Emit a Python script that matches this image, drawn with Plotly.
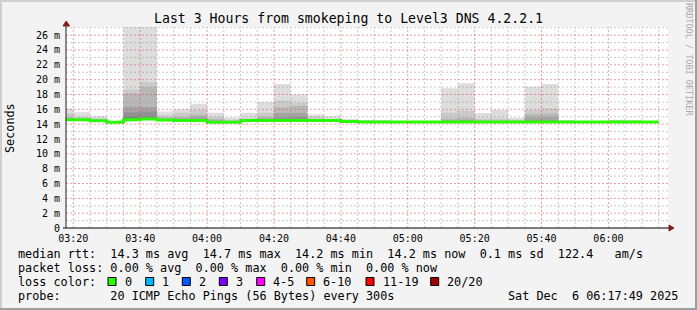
import plotly.graph_objects as go
import pandas as pd

# ---------------- data (values in milliseconds) ----------------
bar_start = list(pd.date_range("2025-12-06 03:15", periods=36, freq="5min"))
bar_end = pd.Timestamp("2025-12-06 06:15")
view_start = "2025-12-06 03:17:49"
view_end = "2025-12-06 06:17:49"

median_rtt = [14.6, 14.6, 14.45, 14.25, 14.6, 14.7, 14.55, 14.5, 14.5, 14.25,
              14.25, 14.5, 14.5, 14.5, 14.5, 14.5, 14.5, 14.35, 14.3, 14.3,
              14.3, 14.3, 14.3, 14.3, 14.3, 14.3, 14.3, 14.3, 14.3, 14.3,
              14.3, 14.3, 14.3, 14.3, 14.3, 14.3]

smoke_bottom = [14.5, 14.5, 14.35, 14.15, 14.5, 14.6, 14.45, 14.4, 14.4, 14.15,
                14.15, 14.4, 14.4, 14.4, 14.4, 14.4, 14.4, 14.25, 14.2, 14.2,
                14.2, 14.2, 14.2, 14.2, 14.2, 14.2, 14.2, 14.2, 14.2, 14.2,
                14.2, 14.2, 14.2, 14.2, 14.2, 14.2]

smoke_top_1 = [16.1, 15.6, 15.1, 14.3, 27.5, 27.5, 15.7, 16.0, 16.75, 15.55,
               14.9, 15.55, 17.0, 19.4, 18.0, 15.3, 15.1, 14.7, 14.55, 14.55,
               14.35, 14.35, 14.35, 18.85, 19.5, 15.5, 15.9, 14.85, 19.05, 19.4,
               14.55, 14.4, 14.35, 14.6, 14.55, 14.35]
smoke_top_2 = [15.5, 15.0, 14.8, 14.3, 18.7, 19.7, 15.2, 15.55, 15.9, 15.0,
               14.6, 14.8, 15.55, 17.15, 16.9, 15.0, 14.7, 14.5, 14.45, 14.45,
               14.3, 14.3, 14.3, 15.55, 15.8, 14.75, 14.75, 14.6, 15.9, 16.1,
               14.45, 14.35, 14.3, 14.5, 14.45, 14.3]
smoke_top_3 = [15.0, 14.8, 14.6, 14.25, 18.15, 19.05, 14.9, 15.0, 15.3, 14.7,
               14.45, 14.6, 15.0, 16.25, 16.45, 14.7, 14.5, 14.4, 14.35, 14.35,
               14.25, 14.25, 14.25, 14.75, 14.9, 14.5, 14.5, 14.45, 15.35, 15.45,
               14.35, 14.3, 14.25, 14.4, 14.35, 14.25]
smoke_top_4 = [14.8, 14.7, 14.5, 14.25, 16.35, 16.3, 14.7, 14.8, 15.0, 14.5,
               14.35, 14.5, 14.8, 15.5, 15.5, 14.6, 14.45, 14.35, 14.3, 14.3,
               14.25, 14.25, 14.25, 14.5, 14.6, 14.4, 14.4, 14.35, 14.9, 14.95,
               14.3, 14.25, 14.25, 14.35, 14.3, 14.25]
smoke_top_5 = [14.7, 14.65, 14.45, 14.2, 15.6, 15.7, 14.6, 14.6, 14.7, 14.35,
               14.3, 14.5, 14.6, 14.9, 15.0, 14.5, 14.4, 14.3, 14.25, 14.25,
               14.2, 14.2, 14.2, 14.4, 14.45, 14.3, 14.3, 14.3, 14.5, 14.5,
               14.25, 14.2, 14.2, 14.3, 14.25, 14.2]
smoke_top_6 = [14.6, 14.6, 14.4, 14.2, 15.0, 15.0, 14.55, 14.5, 14.55, 14.3,
               14.25, 14.45, 14.5, 14.7, 14.7, 14.45, 14.4, 14.3, 14.2, 14.2,
               14.2, 14.2, 14.2, 14.3, 14.3, 14.25, 14.25, 14.25, 14.4, 14.4,
               14.2, 14.2, 14.2, 14.25, 14.2, 14.2]

y_tick_vals = [0, 2, 4, 6, 8, 10, 12, 14, 16, 18, 20, 22, 24, 26]
y_tick_text = ["0", "2 m", "4 m", "6 m", "8 m", "10 m", "12 m", "14 m", "16 m",
               "18 m", "20 m", "22 m", "24 m", "26 m"]
x_tick_text = ["03:20", "03:40", "04:00", "04:20", "04:40", "05:00", "05:20",
               "05:40", "06:00"]

title_text = "Last 3 Hours from smokeping to Level3 DNS 4.2.2.1"
row_rtt = "median rtt:  14.3 ms avg  14.7 ms max  14.2 ms min  14.2 ms now  0.1 ms sd  122.4   am/s"
row_loss = "packet loss: 0.00 % avg  0.00 % max  0.00 % min  0.00 % now"
row_lc = "loss color:"
row_probe = "probe:       20 ICMP Echo Pings (56 Bytes) every 300s"
date_text = "Sat Dec  6 06:17:49 2025"
loss_labels = ["0", "1", "2", "3", "4-5", "6-10", "11-19", "20/20"]
loss_colors = ["#26ff00", "#00b8ff", "#0059ff", "#7e00ff", "#ff00ff",
               "#ff5500", "#ff0000", "#a00000"]

# ---------------- geometry ----------------
W, H = 697, 310
PL, PR, PT, PB = 66, 668, 27, 228
YMAX = 27.1
MONO = "DejaVu Sans Mono"


def px(x):
    return (x - PL) / (PR - PL)


def py(y):
    return (PB - y) / (PB - PT)


def nb(s):
    return s.replace(" ", "\u00a0")


def ext(v):
    return list(v) + [v[-1]]


xs = bar_start + [bar_end]

fig = go.Figure()
smoke_tops = [smoke_top_1, smoke_top_2, smoke_top_3, smoke_top_4, smoke_top_5, smoke_top_6]
smoke_cols = ["#dddddd", "#cacaca", "#b7b7b7", "#a4a4a4", "#919191", "#7e7e7e"]
for top, col in zip(smoke_tops, smoke_cols):
    fig.add_trace(go.Scatter(x=xs, y=ext(smoke_bottom), mode="lines",
                             line=dict(width=0, shape="hv"), hoverinfo="skip",
                             showlegend=False))
    fig.add_trace(go.Scatter(x=xs, y=ext(top), mode="lines",
                             line=dict(width=0, shape="hv"), fill="tonexty",
                             fillcolor=col, hoverinfo="skip", showlegend=False))
fig.add_trace(go.Scatter(x=xs, y=ext(median_rtt), mode="lines",
                         line=dict(color="#26ff00", width=3, shape="hv"),
                         showlegend=False))

shapes = []
# grid (drawn above data like rrdtool)
t0 = pd.Timestamp("2025-12-06 03:20")
for k in range(0, 37):
    t = t0 + pd.Timedelta(minutes=5 * k)
    if t > pd.Timestamp(view_end):
        break
    major = (k % 4 == 0)
    shapes.append(dict(type="line", xref="x", yref="paper", x0=t, x1=t, y0=0, y1=1,
                       layer="above",
                       line=dict(color="rgba(222,79,79,0.55)" if major else "rgba(150,150,150,0.5)",
                                 width=1, dash="2px,2px")))
for v in range(1, 28):
    if v > YMAX:
        break
    major = (v % 2 == 0)
    shapes.append(dict(type="line", xref="paper", yref="y", x0=0, x1=1, y0=v, y1=v,
                       layer="above",
                       line=dict(color="rgba(222,79,79,0.55)" if major else "rgba(150,150,150,0.5)",
                                 width=1, dash="2px,2px")))
# axes with arrows
shapes.append(dict(type="line", xref="paper", yref="paper", x0=px(66), x1=px(66),
                   y0=py(228), y1=py(24), layer="above", line=dict(color="#1f1f1f", width=1)))
shapes.append(dict(type="line", xref="paper", yref="paper", x0=px(63), x1=px(670),
                   y0=py(228), y1=py(228), layer="above", line=dict(color="#000000", width=1)))
shapes.append(dict(type="path", xref="paper", yref="paper", layer="above",
                   path=f"M {px(63)},{py(26)} L {px(69.5)},{py(26)} L {px(66.25)},{py(21)} Z",
                   fillcolor="#801f1f", line=dict(color="#801f1f", width=1)))
shapes.append(dict(type="path", xref="paper", yref="paper", layer="above",
                   path=f"M {px(669)},{py(225)} L {px(669)},{py(231)} L {px(674)},{py(228)} Z",
                   fillcolor="#801f1f", line=dict(color="#801f1f", width=1)))
# 3D frame
shapes.append(dict(type="line", xref="paper", yref="paper", x0=px(0), x1=px(697),
                   y0=py(1), y1=py(1), line=dict(color="#cfcfcf", width=2)))
shapes.append(dict(type="line", xref="paper", yref="paper", x0=px(1), x1=px(1),
                   y0=py(0), y1=py(310), line=dict(color="#cfcfcf", width=2)))
shapes.append(dict(type="line", xref="paper", yref="paper", x0=px(0), x1=px(697),
                   y0=py(309), y1=py(309), line=dict(color="#9e9e9e", width=2)))
shapes.append(dict(type="line", xref="paper", yref="paper", x0=px(696), x1=px(696),
                   y0=py(0), y1=py(310), line=dict(color="#9e9e9e", width=2)))

# loss colour boxes
box_x = [108, 145.7, 182.3, 219.3, 256.7, 306.7, 366, 430.7]
annotations = []
for bx, lab, col in zip(box_x, loss_labels, loss_colors):
    shapes.append(dict(type="rect", xref="paper", yref="paper",
                       x0=px(bx), x1=px(bx + 8), y0=py(285.5), y1=py(277.5),
                       fillcolor=col, line=dict(color="#000000", width=1)))
    annotations.append(dict(xref="paper", yref="paper", x=px(bx + 14.5), y=py(281.7),
                            text=nb(lab), showarrow=False, xanchor="left", yanchor="middle",
                            font=dict(family=MONO, size=11.8, color="#000")))


def add_text(text, x, y, size=11.8, anchor="left", color="#000", angle=0):
    annotations.append(dict(xref="paper", yref="paper", x=px(x), y=py(y), text=nb(text),
                            showarrow=False, xanchor=anchor, yanchor="middle",
                            textangle=angle,
                            font=dict(family=MONO, size=size, color=color)))


add_text(title_text, 348, 19, size=13.2, anchor="center")
add_text(row_rtt, 15.5, 253.5)
add_text(row_loss, 15.5, 267.7)
add_text(row_lc, 15.5, 281.7)
add_text(row_probe, 15.5, 296)
add_text(date_text, 680, 296, anchor="right")
add_text("Seconds", 10, 128, anchor="center", angle=-90)
add_text("RRDTOOL / TOBI OETIKER", 689, 59, size=8.5, anchor="center", color="#a8a8a8", angle=90)

x_tick_vals = [t0 + pd.Timedelta(minutes=20 * i) for i in range(len(x_tick_text))]

fig.update_layout(
    width=W, height=H,
    margin=dict(l=PL, r=W - PR, t=PT, b=H - PB, pad=0),
    paper_bgcolor="#f3f3f3",
    plot_bgcolor="#ffffff",
    showlegend=False,
    shapes=shapes,
    annotations=annotations,
    xaxis=dict(type="date", range=[view_start, view_end], showgrid=False,
               zeroline=False, showline=False, tickvals=x_tick_vals,
               ticktext=x_tick_text, ticks="outside", ticklen=1,
               tickcolor="rgba(0,0,0,0)",
               tickfont=dict(family=MONO, size=10, color="#000")),
    yaxis=dict(range=[0, YMAX], showgrid=False, zeroline=False, showline=False,
               tickvals=y_tick_vals, ticktext=y_tick_text, ticks="outside",
               ticklen=3, tickcolor="rgba(0,0,0,0)",
               tickfont=dict(family=MONO, size=10, color="#000")),
)

fig.write_html("out.html")
